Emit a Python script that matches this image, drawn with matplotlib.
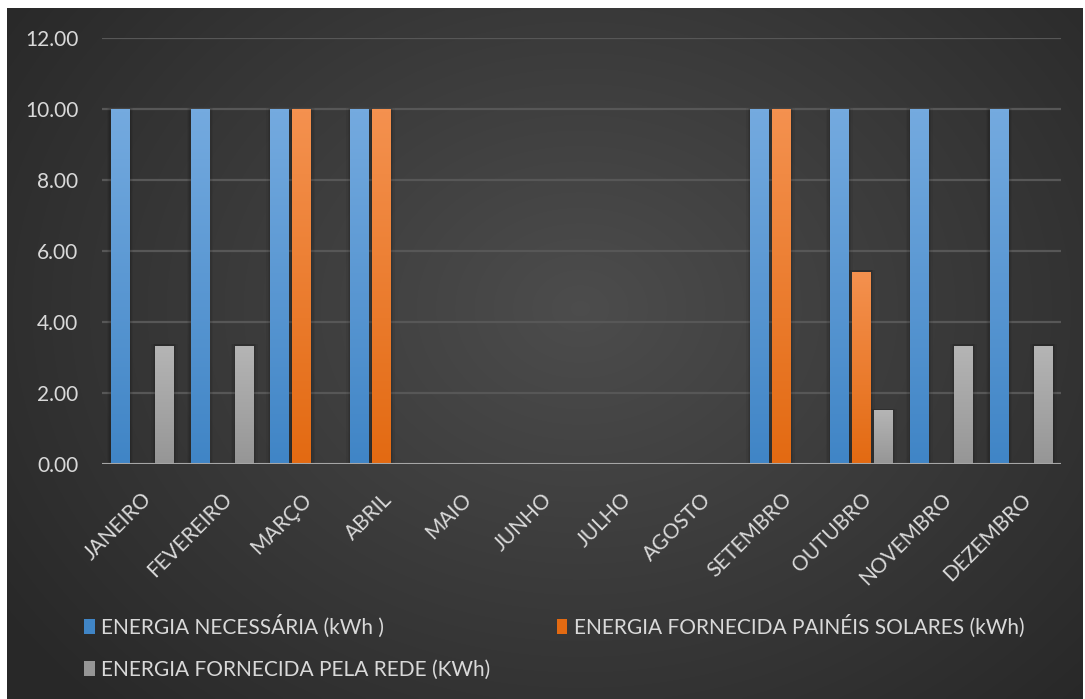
import numpy as np
import matplotlib
matplotlib.use('Agg')
import matplotlib.pyplot as plt
from matplotlib.colors import LinearSegmentedColormap
from matplotlib.patches import Rectangle, Patch

# dados
meses = ['JANEIRO', 'FEVEREIRO', 'MARÇO', 'ABRIL', 'MAIO', 'JUNHO', 'JULHO',
         'AGOSTO', 'SETEMBRO', 'OUTUBRO', 'NOVEMBRO', 'DEZEMBRO']
energia_necessaria = [10, 10, 10, 10, 0, 0, 0, 0, 10, 10, 10, 10]
energia_paineis = [0, 0, 10, 10, 0, 0, 0, 0, 10, 5.42, 0, 0]
energia_rede = [3.33, 3.33, 0, 0, 0, 0, 0, 0, 0, 1.52, 3.33, 3.33]
rotulos = ['ENERGIA NECESSÁRIA (kWh )',
           'ENERGIA FORNECIDA PAINÉIS SOLARES (kWh)',
           'ENERGIA FORNECIDA PELA REDE (KWh)']

# cores (topo, base) de cada serie
CORES = [('#74aadf', '#4085c6'), ('#f4914f', '#e36a12'), ('#b5b5b5', '#969696')]
COR_TEXTO = '#d9d9d9'

plt.rcParams['font.family'] = ['Lato', 'DejaVu Sans']

W, H = 1085, 699
fig = plt.figure(figsize=(W / 100, H / 100), dpi=100, facecolor='white')

# fundo com gradiente radial
bg = fig.add_axes([7 / W, 0, (1083 - 7) / W, (H - 8) / H])
yy, xx = np.mgrid[0:300, 0:470]
cx, cy = 250.0, 130
d = np.sqrt(((xx - cx) / 300.0) ** 2 + ((yy - cy) / 240.0) ** 2)
d = np.clip(d, 0, 1)
lum = 0.30 - 0.14 * d
bg.imshow(np.dstack([lum, lum, lum]), aspect='auto', interpolation='bilinear')
bg.axis('off')
bg.set_zorder(0)

ax = fig.add_axes([102 / W, (H - 464) / H, (1061 - 102) / W, 426 / H])
ax.set_facecolor('none')
ax.set_zorder(1)

x = np.arange(len(meses))
largura = 0.235
deslocs = [-0.275, 0.0, 0.28]
series = [energia_necessaria, energia_paineis, energia_rede]

for serie, dx, (c_topo, c_base) in zip(series, deslocs, CORES):
    cmap = LinearSegmentedColormap.from_list('g', [c_base, c_topo])
    barras = ax.bar(x + dx, serie, largura, color=c_base, zorder=3, linewidth=0)
    for b in barras:
        h = b.get_height()
        if h <= 0:
            continue
        x0 = b.get_x()
        # sombra suave
        for k, a in [(0.10, 0.05), (0.06, 0.07), (0.03, 0.08)]:
            ax.add_patch(Rectangle((x0 - k / 2, 0), largura + k, h + 0.04,
                                   color='black', alpha=a, lw=0, zorder=2))
        img = ax.imshow(np.linspace(1, 0, 100).reshape(-1, 1), cmap=cmap,
                        extent=[x0, x0 + largura, 0, h], aspect='auto',
                        zorder=4, interpolation='bilinear')
        img.set_clip_path(b)

ax.set_xlim(-0.5, len(meses) - 0.5)
ax.set_ylim(0, 12)
ax.set_yticks(np.arange(0, 13, 2))
ax.set_yticklabels([f'{v:.2f}' for v in np.arange(0, 13, 2)])
ax.grid(axis='y', color='#575757', linewidth=1.6, zorder=0)
ax.set_axisbelow(True)
ax.axhline(0, color='#a6a6a6', linewidth=2.2, zorder=5)

ax.set_xticks(x)
ax.set_xticklabels(meses, rotation=45, ha='right', rotation_mode='anchor')
ax.tick_params(axis='x', length=0, pad=18, labelsize=15, labelcolor=COR_TEXTO)
ax.tick_params(axis='y', length=0, pad=17, labelsize=15, labelcolor=COR_TEXTO)
for s in ax.spines.values():
    s.set_visible(False)

handles = [Patch(facecolor=CORES[0][1], label=rotulos[0]),
           Patch(facecolor=CORES[2][1], label=rotulos[2]),
           Patch(facecolor=CORES[1][1], label=rotulos[1])]
leg = fig.legend(handles=handles, ncol=2, loc='upper left',
                 bbox_to_anchor=(74 / W, 1 - 604 / H), frameon=False,
                 fontsize=15, labelcolor=COR_TEXTO, handlelength=0.5,
                 handleheight=0.75, handletextpad=0.3, columnspacing=3.2,
                 labelspacing=1.05, borderpad=0)

fig.savefig('out.png', dpi=100, facecolor='white')
